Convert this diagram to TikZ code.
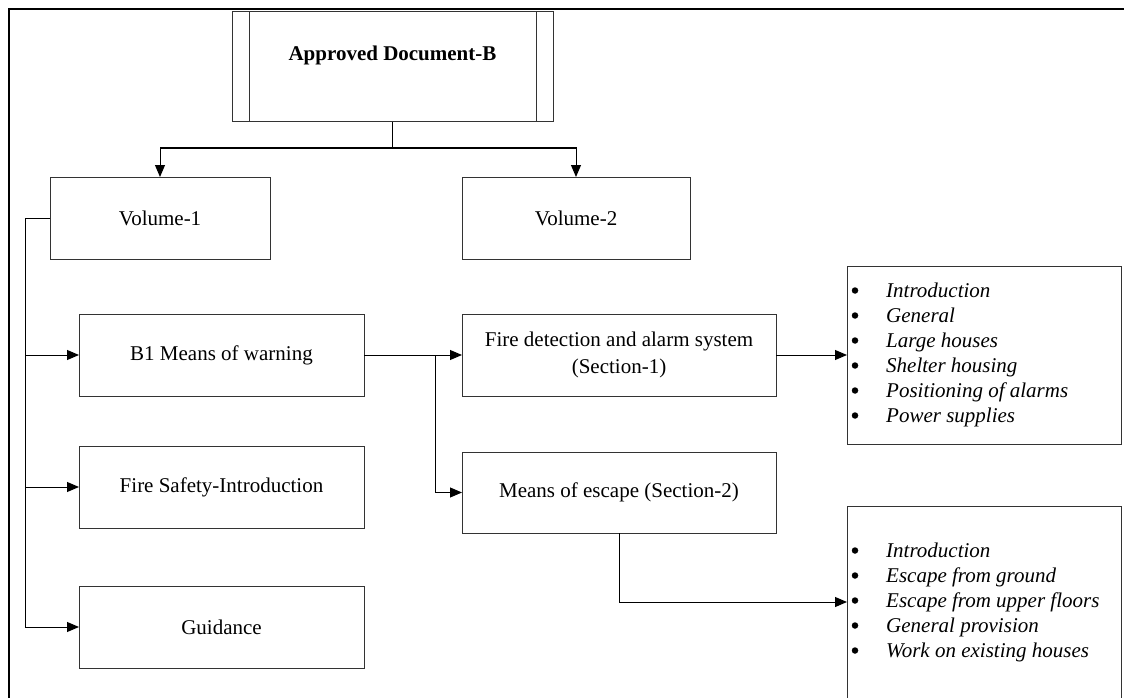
\documentclass[tikz,border=0pt]{standalone}
\usepackage{fontspec}
\setmainfont{Liberation Serif}
\usetikzlibrary{arrows.meta}
\begin{document}
\begin{tikzpicture}[x=1pt,y=-1pt,
  box/.style={draw=black!80,line width=1pt,rectangle,inner sep=0pt,outer sep=0pt,
    align=center,font=\fontsize{21}{27}\selectfont},
  conn/.style={draw=black,line width=1pt},
  arr/.style={conn,-{Triangle[length=12pt,width=10pt]}},
  itemtxt/.style={anchor=base west,inner sep=0pt,font=\fontsize{21}{25}\selectfont\itshape},
  bul/.style={circle,fill=black,inner sep=0pt,minimum size=6.5pt}
]
\useasboundingbox (0,0) rectangle (1124,698);
% frame
\draw[black,line width=1.3pt] (9,698) -- (9,9) -- (1124,9);

% top box
\node[box,minimum width=321pt,minimum height=110pt] (top) at (392.5,67) {};
\draw[black!80,line width=1pt] ([xshift=17pt]top.north west) -- ([xshift=17pt]top.south west);
\draw[black!80,line width=1pt] ([xshift=-17pt]top.north east) -- ([xshift=-17pt]top.south east);
\node[inner sep=0pt,font=\fontsize{21}{25}\selectfont\bfseries] (title) at (392.5,55) {Approved Document-B};

% volumes
\node[box,minimum width=220pt,minimum height=82pt] (vol1) at (160,218) {Volume-1};
\node[box,minimum width=228pt,minimum height=82pt] (vol2) at (576,218) {Volume-2};

% left column
\node[box,minimum width=285pt,minimum height=82pt] (b1) at (221.5,355) {B1 Means of warning};
\node[box,minimum width=285pt,minimum height=82pt] (fsi) at (221.5,487) {Fire Safety-Introduction};
\node[box,minimum width=285pt,minimum height=82pt] (guid) at (221.5,627) {Guidance};

% sections
\node[box,minimum width=314pt,minimum height=82pt] (fire) at (619,355) {Fire detection and alarm system\\(Section-1)};
\node[box,minimum width=314pt,minimum height=81pt] (means) at (619,492.5) {Means of escape (Section-2)};

% list boxes
\node[box,minimum width=274pt,minimum height=178pt] (list1) at (984,355) {};
\node[box,minimum width=274pt,minimum height=230pt] (list2) at (984,621) {};

% list 1 items
\foreach \t [count=\i] in {Introduction,General,Large houses,Shelter housing,Positioning of alarms,Power supplies}{
  \pgfmathsetmacro{\yy}{297+25*(\i-1)}
  \node[bul] (la\i) at (855,\yy-6.5) {};
  \node[itemtxt] (lta\i) at (886,\yy) {\t};
}
% list 2 items
\foreach \t [count=\i] in {Introduction,Escape from ground,Escape from upper floors,General provision,Work on existing houses}{
  \pgfmathsetmacro{\yy}{557+25*(\i-1)}
  \node[bul] (lb\i) at (855,\yy-6.5) {};
  \node[itemtxt] (ltb\i) at (886,\yy) {\t};
}

% connectors
\coordinate (hub) at (392.5,148);
\draw[conn] (top.south) -- (hub);
\draw[arr] (hub) -| (vol1.north);
\draw[arr] (hub) -| (vol2.north);

\coordinate (trunk) at (25,218);
\draw[conn] (vol1.west) -- (trunk);
\draw[arr] (trunk) |- (b1.west);
\draw[arr] (trunk) |- (fsi.west);
\draw[arr] (trunk) |- (guid.west);

\draw[arr] (b1.east) -- (fire.west);
\coordinate (br) at (435,355);
\draw[arr] (br) |- (means.west);

\draw[arr] (fire.east) -- (list1.west);
\coordinate (l2in) at (847,602);
\draw[arr] (means.south) |- (l2in);
\end{tikzpicture}
\end{document}
